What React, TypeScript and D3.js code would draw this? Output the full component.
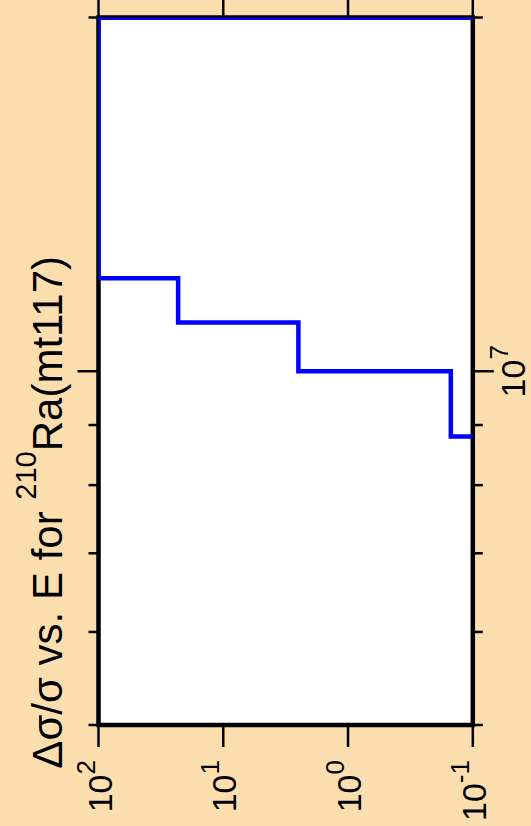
import React from 'react';
import * as d3 from 'd3';

// Step function: bin edges in energy (eV) and the Δσ/σ value in each bin
const binEdges = [5e6, 8.8e6, 1.0e7, 1.1e7, 1.2e7, 2.0e7, 3.0e7];
const binValues = [0.05, 0.15, 2.5, 23, 100, 0.05];

const valueTicks = [100, 10, 1, 0.1];
const valueTickExp = ['2', '1', '0', '-1'];
const energyMajorTicks = [1e7];
const energyMajorExp = ['7'];
const energyMinorTicks = [5e6, 6e6, 7e6, 8e6, 9e6, 2e7];

const titleMain = 'Δσ/σ vs. E for ';
const titleSup = '210';
const titleTail = 'Ra(mt117)';

const W = 531;
const H = 826;
const FONT = '"Liberation Sans", Arial, Helvetica, sans-serif';

export default function App() {
  const left = 98.5;
  const right = 472.8;
  const top = 17.5;
  const bottom = 725;

  const xV = d3.scaleLog().domain([100, 0.1]).range([left, right]);
  const yE = d3.scaleLog().domain([5e6, 2e7]).range([bottom, top]);

  const pts: [number, number][] = [];
  binValues.forEach((v, i) => {
    pts.push([binEdges[i], v]);
    pts.push([binEdges[i + 1], v]);
  });
  const line = d3
    .line<[number, number]>()
    .x((d) => xV(d[1]))
    .y((d) => yE(d[0]));
  const pathD = line(pts) || '';

  const majorLen = 21;
  const minorLen = 10;
  const valTickLen = 22;

  return (
    <svg
      width={W}
      height={H}
      style={{ position: 'absolute', left: 0, top: 0, display: 'block' }}
      fontFamily={FONT}
    >
      <defs>
        <clipPath id="plotclip">
          <rect x={left} y={top} width={right - left} height={bottom - top} />
        </clipPath>
      </defs>
      <rect x={0} y={0} width={W} height={H} fill="#FDDEAF" />
      <rect x={left} y={top} width={right - left} height={bottom - top} fill="#ffffff" />
      <rect
        x={left}
        y={top}
        width={right - left}
        height={bottom - top}
        fill="none"
        stroke="#000"
        strokeWidth={4.5}
      />

      {/* value axis ticks (bottom and top) */}
      {valueTicks.map((v, i) => (
        <g key={'vt' + i}>
          <line x1={xV(v)} x2={xV(v)} y1={bottom} y2={bottom + valTickLen} stroke="#000" strokeWidth={2.5} />
          <line x1={xV(v)} x2={xV(v)} y1={top} y2={top - valTickLen} stroke="#000" strokeWidth={2.5} />
          <text
            transform={`translate(${xV(v) + 13},${760}) rotate(-90)`}
            textAnchor="end"
            fontSize={34}
            fill="#000"
          >
            10
            <tspan dy={-17} fontSize={26}>
              {valueTickExp[i]}
            </tspan>
          </text>
        </g>
      ))}

      {/* energy axis ticks (right and left) */}
      {energyMajorTicks.map((e, i) => (
        <g key={'em' + i}>
          <line x1={right} x2={right + majorLen} y1={yE(e)} y2={yE(e)} stroke="#000" strokeWidth={2.5} />
          <line x1={left} x2={left - majorLen} y1={yE(e)} y2={yE(e)} stroke="#000" strokeWidth={2.5} />
          <text
            transform={`translate(${525},${yE(e)}) rotate(-90)`}
            textAnchor="middle"
            fontSize={34}
            fill="#000"
          >
            10
            <tspan dy={-17} fontSize={26}>
              {energyMajorExp[i]}
            </tspan>
          </text>
        </g>
      ))}
      {energyMinorTicks.map((e, i) => (
        <g key={'en' + i}>
          <line x1={right} x2={right + minorLen} y1={yE(e)} y2={yE(e)} stroke="#000" strokeWidth={2.5} />
          <line x1={left} x2={left - minorLen} y1={yE(e)} y2={yE(e)} stroke="#000" strokeWidth={2.5} />
        </g>
      ))}

      {/* step line */}
      <path d={pathD} fill="none" stroke="#0000ff" strokeWidth={4.5} clipPath="url(#plotclip)" />

      {/* title */}
      <text transform={`translate(62,256) rotate(-90)`} textAnchor="end" fontSize={42} fill="#000">
        {titleMain}
        <tspan dy={-26} fontSize={29}>
          {titleSup}
        </tspan>
        <tspan dy={26}>{titleTail}</tspan>
      </text>
    </svg>
  );
}
